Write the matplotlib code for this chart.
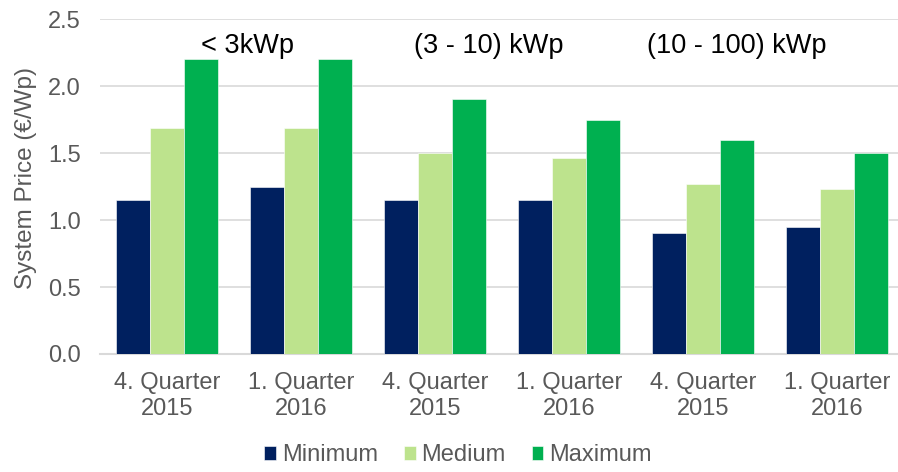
import numpy as np
import matplotlib.pyplot as plt

plt.rcParams['font.family'] = ['Liberation Sans', 'DejaVu Sans']

# --- Data ---
periods = ["4. Quarter\n2015", "1. Quarter\n2016", "4. Quarter\n2015",
           "1. Quarter\n2016", "4. Quarter\n2015", "1. Quarter\n2016"]
minimum = [1.15, 1.25, 1.15, 1.15, 0.90, 0.95]
medium = [1.69, 1.69, 1.50, 1.46, 1.27, 1.23]
maximum = [2.20, 2.20, 1.90, 1.75, 1.60, 1.50]
series_names = ["Minimum", "Medium", "Maximum"]
segments = ["< 3kWp", "(3 - 10) kWp", "(10 - 100) kWp"]
segment_x = [0.60, 2.40, 4.25]

colors = ["#00205F", "#BDE38D", "#00B050"]
GRAY = "#595959"

fig = plt.figure(figsize=(8.98, 4.72), dpi=100)
ax = fig.add_axes([0.1114, 0.25, 0.8953, 0.7097])

x = np.arange(len(periods))
w = 0.254
for i, (vals, name) in enumerate(zip([minimum, medium, maximum], series_names)):
    ax.bar(x + (i - 1) * w, vals, width=w, color=colors[i], label=name,
           edgecolor="white", linewidth=0.4, zorder=3)

for label, sx in zip(segments, segment_x):
    ax.text(sx, 2.30, label, ha="center", va="center", fontsize=19.5, color="black")

ax.set_xlim(-0.5, 5.5)
ax.set_ylim(0, 2.5)
ticks = np.arange(0, 2.51, 0.5)
ax.set_yticks(ticks)
ax.set_yticklabels([f"{v:.1f}" for v in ticks])
ax.set_xticks(x)
ax.set_xticklabels(periods, linespacing=1.25)
ax.tick_params(axis="both", length=0, labelsize=17, colors=GRAY)
ax.tick_params(axis="y", pad=14)
ax.tick_params(axis="x", pad=13)

ax.yaxis.grid(True, color="#D9D9D9", linewidth=1.2, zorder=0)
for s in ["top", "right", "left"]:
    ax.spines[s].set_visible(False)
ax.spines["bottom"].set_color("#D9D9D9")
ax.spines["bottom"].set_linewidth(1.5)

ax.set_ylabel("System Price (€/Wp)", fontsize=17.5, color=GRAY)
ax.yaxis.set_label_coords(-0.078, 0.524)

leg = fig.legend(loc="lower center", bbox_to_anchor=(0.51, -0.033), ncol=3,
                 frameon=False, fontsize=17, handlelength=0.5, handleheight=0.5,
                 handletextpad=0.25, columnspacing=1.1)
for t in leg.get_texts():
    t.set_color(GRAY)

fig.savefig("out.png", dpi=100)
